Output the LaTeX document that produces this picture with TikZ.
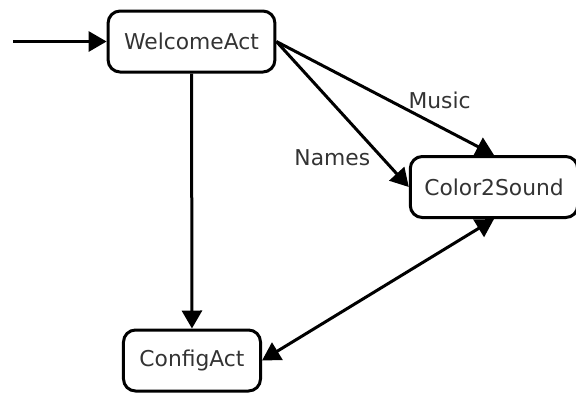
\documentclass[tikz,border=0pt]{standalone}
\usepackage{fontspec}
\setmainfont{DejaVu Sans}
\usetikzlibrary{arrows.meta}
\begin{document}
\begin{tikzpicture}[x=0.5pt, y=-0.5pt,
        state/.style={draw, line width=1.5pt, rounded corners=6pt, inner xsep=8pt,
            minimum height=30.5pt, text=black!80, font=\fontsize{10.9}{12}\selectfont},
        trans/.style={line width=1.5pt, -{Triangle[length=9pt,width=10pt]}},
        lbl/.style={text=black!80, font=\fontsize{10.9}{12}\selectfont}]
        \useasboundingbox (0, 0) rectangle (576, 392);

        % Zustaende
        \node[state] (welcome) at (191.5, 41.5) {WelcomeAct};
        \node[state, inner xsep=7pt] (color) at (494, 187) {Color2Sound};
        \node[state] (config) at (192, 360.5) {ConfigAct};
        \coordinate (start) at (13, 41.5);

        % Uebergaenge
        \draw[trans] (start) -- (welcome);
        \draw[trans] (welcome) -- (config);
        \draw[trans] (welcome.east) -- (color.north) node[lbl,pos=0.75,above=5pt] {Music};
        \draw[trans] (welcome.east) -- (color.west) node[lbl,pos=0.8,left=2pt] {Names};
        \draw[trans, {Triangle[length=9pt,width=10pt]}-{Triangle[length=9pt,width=10pt]}] (config.east) -- (color.south);
    \end{tikzpicture}
\end{document}
